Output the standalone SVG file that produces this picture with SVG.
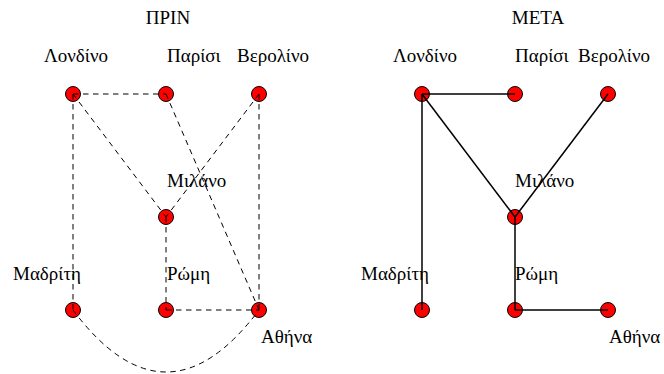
<svg xmlns="http://www.w3.org/2000/svg" width="664" height="374" viewBox="0 0 664 374">
<style>
.n{fill:#ff0000;stroke:#000;stroke-width:1}
.d{fill:none;stroke:#000;stroke-width:1;stroke-dasharray:5.5 4.5}
.s{fill:none;stroke:#000;stroke-width:1.5}
</style>
<rect width="664" height="374" fill="#fff"/>
<g font-family="'Liberation Serif', 'DejaVu Serif', serif" font-size="19" fill="#000">
<text x="168" y="24" text-anchor="middle">ΠΡΙΝ</text>
<text x="538" y="24" text-anchor="middle">ΜΕΤΑ</text>
<g id="L-londino"><circle class="n" cx="73" cy="94" r="7.5"/><text x="76" y="62" text-anchor="middle">Λονδίνο</text></g>
<g id="L-parisi"><circle class="n" cx="166" cy="94" r="7.5"/><text x="167" y="62">Παρίσι</text></g>
<g id="L-verolino"><circle class="n" cx="259" cy="94" r="7.5"/><text x="237" y="62">Βερολίνο</text></g>
<g id="L-milano"><circle class="n" cx="166" cy="217" r="7.5"/><text x="167" y="187">Μιλάνο</text></g>
<g id="L-madriti"><circle class="n" cx="73" cy="310" r="7.5"/><text x="13" y="280">Μαδρίτη</text></g>
<g id="L-romi"><circle class="n" cx="166" cy="310" r="7.5"/><text x="167" y="280">Ρώμη</text></g>
<g id="L-athina"><circle class="n" cx="259" cy="310" r="7.5"/><text x="261" y="343">Αθήνα</text></g>
<g id="R-londino"><circle class="n" cx="422" cy="94" r="7.5"/><text x="425" y="62" text-anchor="middle">Λονδίνο</text></g>
<g id="R-parisi"><circle class="n" cx="515" cy="94" r="7.5"/><text x="515" y="62">Παρίσι</text></g>
<g id="R-verolino"><circle class="n" cx="608" cy="94" r="7.5"/><text x="578" y="62">Βερολίνο</text></g>
<g id="R-milano"><circle class="n" cx="515" cy="217" r="7.5"/><text x="515" y="187">Μιλάνο</text></g>
<g id="R-madriti"><circle class="n" cx="422" cy="310" r="7.5"/><text x="361" y="280">Μαδρίτη</text></g>
<g id="R-romi"><circle class="n" cx="515" cy="310" r="7.5"/><text x="515" y="280">Ρώμη</text></g>
<g id="R-athina"><circle class="n" cx="608" cy="310" r="7.5"/><text x="609" y="343">Αθήνα</text></g>
</g>
<g id="connectors">
<line class="d" x1="73" y1="94" x2="166" y2="94"/>
<line class="d" x1="73" y1="94" x2="73" y2="310"/>
<line class="d" x1="73" y1="94" x2="166" y2="217"/>
<line class="d" x1="166" y1="94" x2="259" y2="310"/>
<line class="d" x1="259" y1="94" x2="166" y2="217"/>
<line class="d" x1="259" y1="94" x2="259" y2="310"/>
<line class="d" x1="166" y1="217" x2="166" y2="310"/>
<line class="d" x1="166" y1="310" x2="259" y2="310"/>
<path class="d" d="M73 310 Q166 434 259 310"/>
<line class="s" x1="422" y1="94" x2="515" y2="94"/>
<line class="s" x1="422" y1="94" x2="422" y2="310"/>
<line class="s" x1="422" y1="94" x2="515" y2="217"/>
<line class="s" x1="608" y1="94" x2="515" y2="217"/>
<line class="s" x1="515" y1="217" x2="515" y2="310"/>
<line class="s" x1="515" y1="310" x2="608" y2="310"/>
</g>
</svg>
